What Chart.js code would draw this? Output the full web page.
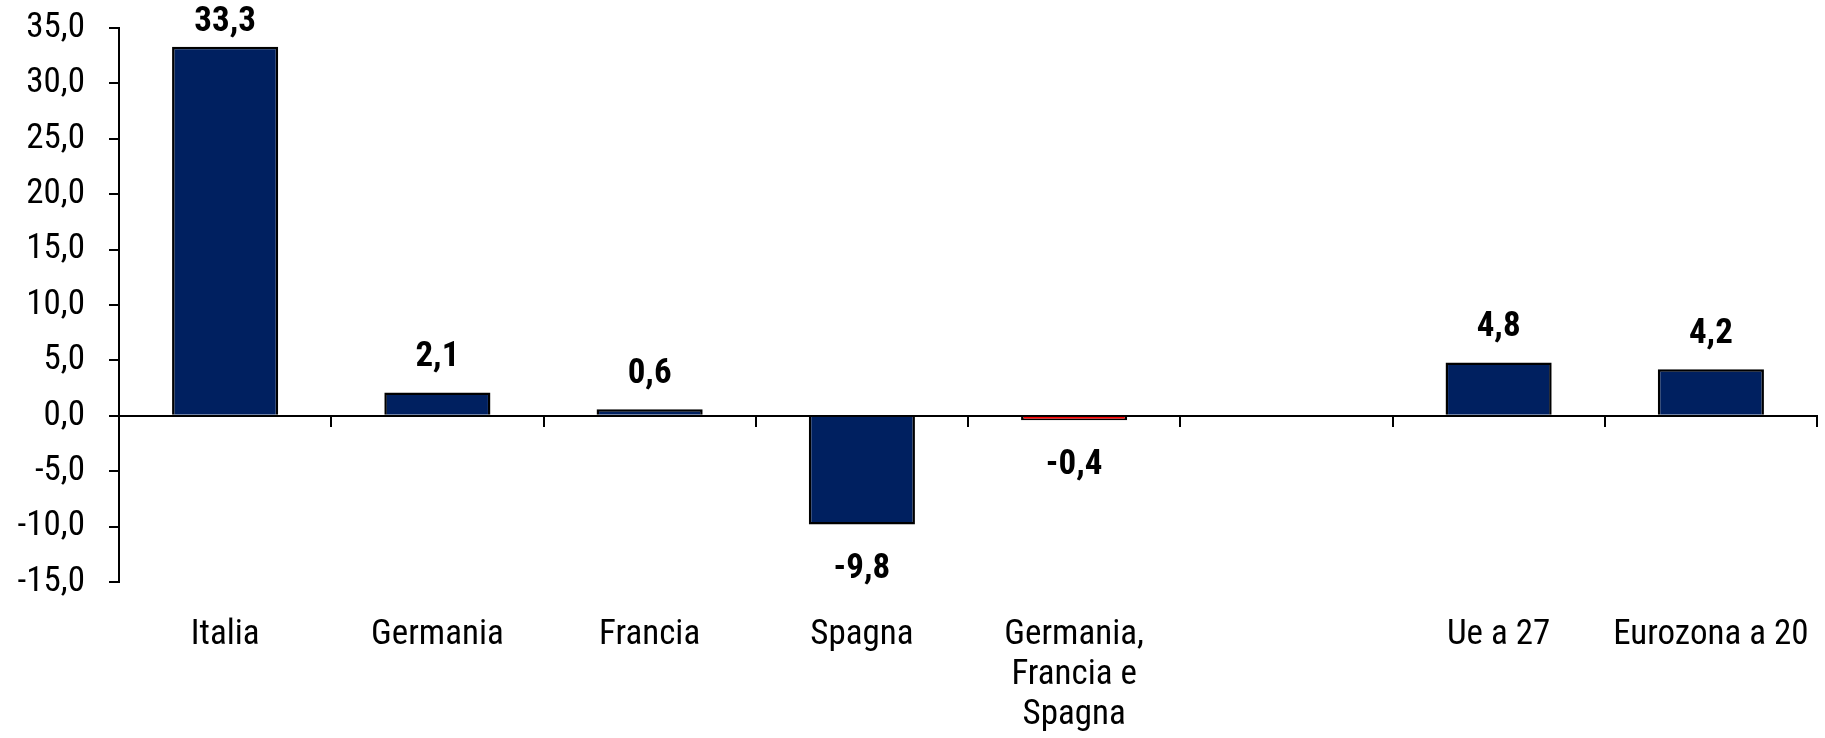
<!DOCTYPE html>
<html>
<head>
<meta charset="utf-8">
<script src="https://cdn.jsdelivr.net/npm/chart.js@4.4.1/dist/chart.umd.min.js"></script>
<style>
  html, body { margin: 0; padding: 0; background: #fff; }
  #wrap { width: 1825px; height: 738px; position: relative; }
</style>
</head>
<body>
<div id="wrap"><canvas id="chart"></canvas></div>
<script>
var categories = ["Italia", "Germania", "Francia", "Spagna",
  ["Germania,", "Francia e", "Spagna"], "", "Ue a 27", "Eurozona a 20"];
var values = [33.3, 2.1, 0.6, -9.8, -0.4, null, 4.8, 4.2];
var barColors = ["#002060", "#002060", "#002060", "#002060", "#ff0000", "#002060", "#002060", "#002060"];
var yTicks = { min: -15, max: 35, step: 5 };

var FONT = "'Roboto Condensed', 'Arial Narrow', sans-serif";

function comma(v) {
  return v.toFixed(1).replace(".", ",");
}

// value labels above positive bars, below negative ones
var valueLabels = {
  id: "valueLabels",
  afterDatasetsDraw: function (chart) {
    var ctx = chart.ctx;
    var meta = chart.getDatasetMeta(0);
    var area = chart.chartArea;
    ctx.save();
    ctx.font = "bold 35px " + FONT;
    ctx.fillStyle = "#000";
    ctx.textAlign = "center";
    ctx.textBaseline = "middle";
    meta.data.forEach(function (bar, i) {
      var v = values[i];
      if (v === null) return;
      var y = v >= 0 ? Math.max(bar.y - 35, area.top - 6) : bar.y + 45;
      ctx.fillText(comma(v), bar.x, y);
    });
    ctx.restore();
  }
};

new Chart(document.getElementById("chart"), {
  type: "bar",
  data: {
    labels: categories,
    datasets: [{
      data: values,
      backgroundColor: barColors,
      borderColor: "#000",
      borderWidth: 2.5,
      barPercentage: 1,
      categoryPercentage: 0.5
    }]
  },
  options: {
    responsive: true,
    maintainAspectRatio: false,
    animation: false,
    layout: { padding: { top: 28, right: 8, left: 0, bottom: 0 } },
    plugins: {
      legend: { display: false },
      tooltip: { enabled: false }
    },
    scales: {
      x: {
        position: "bottom",
        // invisible tick marks only push the labels down
        grid: { drawOnChartArea: false, drawTicks: true, tickLength: 33, color: "rgba(0,0,0,0)" },
        border: { display: false },
        ticks: {
          color: "#000",
          font: { family: FONT, size: 35, lineHeight: 1.15 },
          padding: 0,
          autoSkip: false,
          maxRotation: 0
        },
        afterFit: function (scale) { scale.height = 156; }
      },
      xZero: {
        type: "category",
        position: { y: 0 },
        offset: true,
        grid: { offset: true, drawOnChartArea: false, tickLength: 10, color: "#000", lineWidth: 2 },
        border: { color: "#000", width: 2 },
        ticks: { display: false }
      },
      y: {
        min: yTicks.min,
        max: yTicks.max,
        grid: { drawOnChartArea: false, tickLength: 10, color: "#000", lineWidth: 2 },
        border: { color: "#000", width: 2 },
        ticks: {
          stepSize: yTicks.step,
          color: "#000",
          padding: 24,
          font: { family: FONT, size: 35 },
          callback: function (v) { return comma(v); }
        },
        afterFit: function (scale) {
          scale.width = 119;
          scale.paddingTop = 0;
          scale.paddingBottom = 0;
        }
      }
    }
  },
  plugins: [valueLabels]
});
</script>
</body>
</html>
